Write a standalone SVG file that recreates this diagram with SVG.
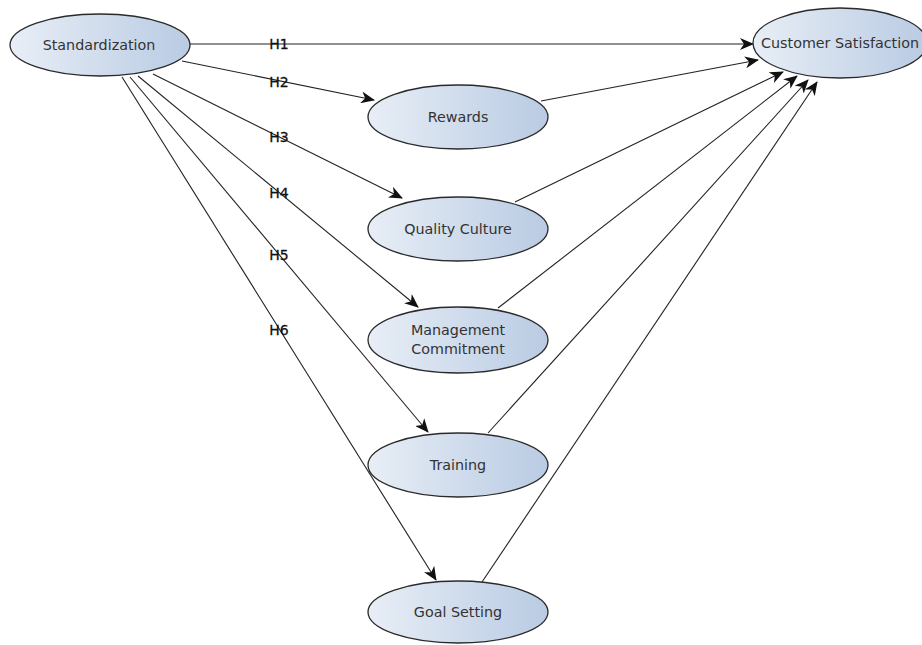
<svg xmlns="http://www.w3.org/2000/svg" width="922" height="645" viewBox="0 0 922 645">
<style>
.node ellipse{fill:url(#g);stroke:#2a2a2a;stroke-width:1.3}
.node text{font-family:"DejaVu Sans","Liberation Sans",sans-serif;font-size:14.3px;fill:#333;text-anchor:middle}
.edges line{stroke:#222;stroke-width:1.1;marker-end:url(#arr)}
.lbl{font-family:"DejaVu Sans","Liberation Sans",sans-serif;font-size:14px;fill:#111;stroke:#111;stroke-width:0.3;text-anchor:middle}
</style>
<defs>
<linearGradient id="g" x1="0" y1="0" x2="1" y2="0">
<stop offset="0" stop-color="#e8eef6"/>
<stop offset="1" stop-color="#b9cbe3"/>
</linearGradient>
<marker id="arr" markerUnits="userSpaceOnUse" markerWidth="14" markerHeight="12" viewBox="0 0 14 12" refX="13" refY="6" orient="auto">
<path d="M0,0 L14,6 L0,12 L4,6 z" fill="#111"/>
</marker>
</defs>
<rect width="922" height="645" fill="#fff"/>
<g class="edges">
<line x1="190" y1="44" x2="753" y2="44"/>
<line x1="182" y1="61" x2="374" y2="100"/>
<line x1="153" y1="74" x2="402" y2="198"/>
<line x1="138" y1="76" x2="418" y2="307"/>
<line x1="130" y1="77" x2="428" y2="432"/>
<line x1="122" y1="77" x2="436" y2="580"/>
<line x1="541" y1="101" x2="758" y2="60"/>
<line x1="515" y1="202" x2="783" y2="72"/>
<line x1="498" y1="308" x2="797" y2="76"/>
<line x1="488" y1="433" x2="808" y2="80"/>
<line x1="482" y1="582" x2="817" y2="82"/>
</g>
<g id="labels">
<text class="lbl" x="279" y="49">H1</text>
<text class="lbl" x="279" y="87">H2</text>
<text class="lbl" x="279" y="142">H3</text>
<text class="lbl" x="279" y="198">H4</text>
<text class="lbl" x="279" y="260">H5</text>
<text class="lbl" x="279" y="335">H6</text>
</g>
<g id="standardization" class="node"><ellipse cx="100" cy="45" rx="90" ry="31"/><text x="99" y="50">Standardization</text></g>
<g id="customer-satisfaction" class="node"><ellipse cx="840" cy="43" rx="87" ry="35"/><text x="840" y="48">Customer Satisfaction</text></g>
<g id="rewards" class="node"><ellipse cx="458" cy="117" rx="90" ry="32"/><text x="458" y="122">Rewards</text></g>
<g id="quality-culture" class="node"><ellipse cx="458" cy="229" rx="90" ry="32"/><text x="458" y="234">Quality Culture</text></g>
<g id="management-commitment" class="node"><ellipse cx="458" cy="340" rx="90" ry="33"/><text x="458" y="335">Management</text><text x="458" y="354">Commitment</text></g>
<g id="training" class="node"><ellipse cx="458" cy="465" rx="90" ry="32"/><text x="458" y="470">Training</text></g>
<g id="goal-setting" class="node"><ellipse cx="458" cy="612" rx="90" ry="31"/><text x="458" y="617">Goal Setting</text></g>
</svg>
